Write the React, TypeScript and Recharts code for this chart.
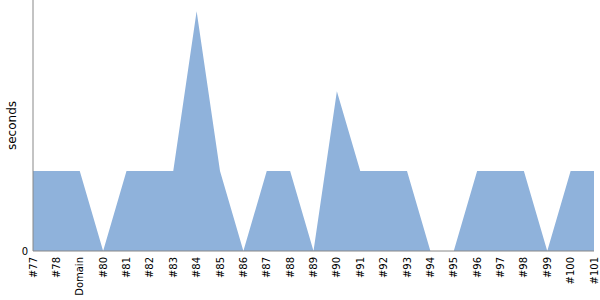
import React from 'react';
import { AreaChart, Area, XAxis, YAxis } from 'recharts';

const categories = [
  '#77', '#78', 'Domain', '#80', '#81', '#82', '#83', '#84', '#85', '#86',
  '#87', '#88', '#89', '#90', '#91', '#92', '#93', '#94', '#95', '#96',
  '#97', '#98', '#99', '#100', '#101',
];
const seconds = [1, 1, 1, 0, 1, 1, 1, 3, 1, 0, 1, 1, 0, 2, 1, 1, 1, 0, 0, 1, 1, 1, 0, 1, 1];
const yTicks = [0];

const data = categories.map((name, i) => ({ name, seconds: seconds[i] }));

const FONT = 'DejaVu Sans';

const RotatedTick = (props: any) => {
  const { x, y, payload } = props;
  const ty = y - 2;
  return (
    <text
      x={x}
      y={ty}
      transform={`rotate(-90, ${x}, ${ty})`}
      textAnchor="end"
      dy="0.35em"
      style={{ fontSize: 10, fontFamily: FONT, fill: '#000' }}
    >
      {payload.value}
    </text>
  );
};

export default function App() {
  return (
    <div style={{ position: 'absolute', left: 0, top: 0, background: '#fff', fontFamily: FONT }}>
      <AreaChart
        width={600}
        height={300}
        data={data}
        margin={{ top: 0, right: 6, bottom: 0, left: 0 }}
        style={{ fontFamily: FONT }}
      >
        <XAxis
          dataKey="name"
          interval={0}
          height={49}
          tickLine={false}
          axisLine={{ stroke: '#888' }}
          tick={<RotatedTick />}
        />
        <YAxis
          width={33}
          domain={[0, 3.14]}
          ticks={yTicks}
          tickLine={false}
          tickSize={3}
          tickMargin={2}
          axisLine={{ stroke: '#888' }}
          tick={{ fontSize: 10, fontFamily: FONT, fill: '#000' }}
          label={{
            value: 'seconds',
            angle: -90,
            position: 'insideLeft',
            dx: 7,
            style: { fontSize: 12, fontFamily: FONT, fill: '#000', textAnchor: 'middle' },
          }}
        />
        <Area
          type="linear"
          dataKey="seconds"
          stroke="none"
          fill="#8fb2db"
          fillOpacity={1}
          isAnimationActive={false}
        />
      </AreaChart>
    </div>
  );
}
